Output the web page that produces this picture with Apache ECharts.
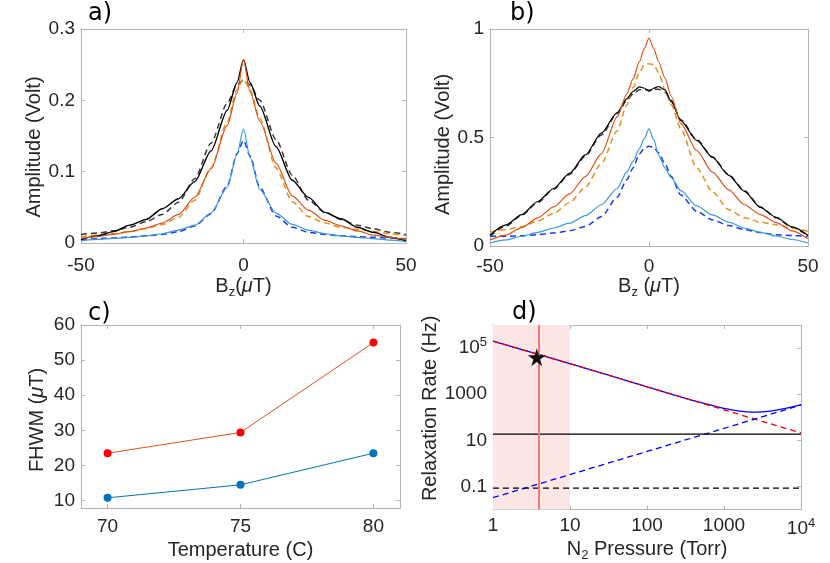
<!DOCTYPE html>
<html>
<head>
<meta charset="utf-8">
<script src="https://cdn.jsdelivr.net/npm/echarts@6.0.0/dist/echarts.min.js"></script>
<style>
  html, body { margin: 0; padding: 0; background: #fff; }
  #chart { width: 830px; height: 563px; }
</style>
</head>
<body>
<div id="chart"></div>
<script>
// ---- panel a : amplitude vs field ----
const fieldA = [-50, -45, -40, -35, -30, -25, -20, -15, -10, -5, -2, 0, 2, 5, 10, 15, 20, 25, 30, 35, 40, 45, 50];
const blackSolidA = [0.005, 0.010, 0.016, 0.025, 0.033, 0.048, 0.062, 0.086, 0.129, 0.186, 0.225, 0.257, 0.225, 0.192, 0.135, 0.088, 0.064, 0.043, 0.034, 0.022, 0.015, 0.008, 0.003];
const blackDashA = [0.012, 0.014, 0.017, 0.022, 0.030, 0.040, 0.057, 0.090, 0.140, 0.196, 0.222, 0.228, 0.222, 0.200, 0.145, 0.095, 0.060, 0.043, 0.033, 0.025, 0.020, 0.015, 0.012];
const orangeSolidA = [0.0065, 0.009, 0.012, 0.016, 0.021, 0.028, 0.040, 0.064, 0.104, 0.165, 0.210, 0.257, 0.212, 0.171, 0.112, 0.066, 0.046, 0.032, 0.024, 0.017, 0.011, 0.008, 0.005];
const orangeDashA = [0.009, 0.011, 0.013, 0.016, 0.020, 0.026, 0.036, 0.060, 0.105, 0.170, 0.215, 0.230, 0.215, 0.175, 0.105, 0.058, 0.037, 0.028, 0.022, 0.019, 0.016, 0.013, 0.010];
const blueSolidA = [0.003, 0.005, 0.0065, 0.008, 0.010, 0.013, 0.018, 0.025, 0.042, 0.078, 0.124, 0.160, 0.120, 0.075, 0.042, 0.026, 0.018, 0.013, 0.010, 0.008, 0.006, 0.004, 0.002];
const blueDashA = [0.005, 0.006, 0.007, 0.0085, 0.010, 0.012, 0.016, 0.024, 0.041, 0.080, 0.125, 0.144, 0.122, 0.078, 0.038, 0.022, 0.015, 0.012, 0.010, 0.009, 0.008, 0.007, 0.006];

// ---- panel b ----
const fieldB = [-50, -45, -40, -35, -30, -25, -20, -15, -10, -7, -5, -3, -1.5, 0, 1.5, 3, 5, 7, 10, 15, 20, 25, 30, 35, 40, 45, 50];
const blackSolidB = [0.050, 0.097, 0.145, 0.205, 0.265, 0.335, 0.420, 0.520, 0.615, 0.678, 0.712, 0.733, 0.728, 0.713, 0.727, 0.735, 0.720, 0.665, 0.578, 0.487, 0.408, 0.327, 0.252, 0.178, 0.132, 0.088, 0.050];
const blackDashB = [0.045, 0.092, 0.142, 0.200, 0.262, 0.330, 0.415, 0.512, 0.610, 0.670, 0.700, 0.720, 0.722, 0.718, 0.722, 0.722, 0.710, 0.670, 0.582, 0.490, 0.410, 0.330, 0.255, 0.180, 0.130, 0.085, 0.048];
const orangeSolidB = [0.028, 0.050, 0.085, 0.130, 0.180, 0.240, 0.320, 0.425, 0.595, 0.700, 0.770, 0.850, 0.910, 0.958, 0.910, 0.850, 0.775, 0.690, 0.565, 0.440, 0.340, 0.260, 0.190, 0.145, 0.108, 0.070, 0.033];
const orangeDashB = [0.065, 0.075, 0.090, 0.115, 0.150, 0.200, 0.270, 0.380, 0.530, 0.650, 0.730, 0.800, 0.835, 0.840, 0.835, 0.800, 0.720, 0.650, 0.540, 0.360, 0.250, 0.168, 0.130, 0.110, 0.098, 0.082, 0.068];
const blueSolidB = [0.014, 0.028, 0.045, 0.063, 0.083, 0.105, 0.140, 0.190, 0.265, 0.340, 0.390, 0.450, 0.495, 0.540, 0.490, 0.420, 0.360, 0.315, 0.255, 0.185, 0.143, 0.110, 0.083, 0.063, 0.046, 0.030, 0.014];
const blueDashB = [0.045, 0.045, 0.047, 0.052, 0.060, 0.070, 0.090, 0.135, 0.225, 0.305, 0.360, 0.425, 0.450, 0.460, 0.455, 0.430, 0.380, 0.320, 0.235, 0.160, 0.120, 0.095, 0.076, 0.062, 0.052, 0.048, 0.045];

// ---- panel c : FHWM vs temperature ----
const tempC = [70, 75, 80];
const fwhmRed = [23.5, 29.4, 55.0];
const fwhmBlue = [10.8, 14.5, 23.5];
const fwhmTicks = [10, 20, 30, 40, 50, 60];

// ---- panel d : relaxation rates vs N2 pressure ----
const pressD = [1, 10, 100, 1000, 10000];
const redDashD = [2.0e5, 2.1e4, 2.1e3, 210, 21];
const blueDashD = [0.033, 0.33, 3.3, 33, 340];
const pressTotalD = [1, 10, 100, 300, 600, 1000, 1500, 2500, 4000, 6000, 10000];
const blueTotalD = [2.0e5, 2.1e4, 2.1e3, 700, 370, 243, 190, 168, 186, 235, 355];
const pressFlatD = [1, 10000];
const blackSolidD = [18.6, 18.6];
const blackDashD = [0.085, 0.085];
const rateTicks = [0.1, 10, 1000, 1e5];
const starPoint = [3.7, 4.0e4];
const markedPressure = 3.9;
const shadedRange = [1, 10];

const pairs = (xs, ys) => xs.map((x, i) => [x, ys[i]]);

const FONT = '"Liberation Sans", Arial, Helvetica, sans-serif';
const TXT = '#262626';
const AX = '#b4b4b4';
const TICK = 19, NAME = 20;
const rich = {
  sub: { fontSize: 13, fontFamily: FONT, color: TXT, padding: [12, 0, 0, 0] },
  sup: { fontSize: 13, fontFamily: FONT, color: TXT, padding: [0, 0, 12, 0] },
  mu: { fontSize: NAME, fontFamily: FONT, color: TXT, fontStyle: 'italic' },
  b: { fontSize: NAME, fontFamily: FONT, color: TXT },
  t: { fontSize: TICK, fontFamily: FONT, color: TXT }
};

function tickStyle(custom) {
  const t = { show: true, inside: true, length: 4, lineStyle: { color: AX } };
  if (custom) t.customValues = custom;
  return t;
}
function labelStyle(margin, extra) {
  return Object.assign({ color: TXT, fontSize: TICK, fontFamily: FONT, margin: margin, rich: rich }, extra);
}
function axis(o, namePad) {
  return Object.assign({
    axisLine: { show: true, onZero: false, lineStyle: { color: AX, width: 1 } },
    axisTick: tickStyle(),
    axisLabel: labelStyle(10),
    splitLine: { show: false },
    nameLocation: 'middle',
    nameTextStyle: { color: TXT, fontSize: NAME, fontFamily: FONT, rich: rich, padding: namePad || 0 }
  }, o);
}
function mirror(o) {
  return Object.assign({
    axisLine: { show: true, onZero: false, lineStyle: { color: AX, width: 1 } },
    axisTick: tickStyle(),
    axisLabel: { show: false },
    splitLine: { show: false }
  }, o);
}
function logLabel(v) {
  const e = Math.round(Math.log10(v));
  if (e >= 4) return '{t|10}{sup|' + e + '}';
  return e < 0 ? Math.pow(10, e).toFixed(-e) : String(Math.pow(10, e));
}

function line(xi, xs, ys, color, dashed, width) {
  return {
    type: 'line', xAxisIndex: xi, yAxisIndex: xi,
    data: pairs(xs, ys), showSymbol: false, smooth: 0.25, smoothMonotone: 'x',
    lineStyle: { color: color, width: width || (dashed ? 1.5 : 1.2), type: dashed ? [6, 4] : 'solid' },
    silent: true
  };
}

const cBlackD = '#3a3a3a', cOrange = '#d95319', cOrangeD = '#e6901f', cBlue = '#3a9ad9', cBlueD = '#1a3cf5';

var chartDom = document.getElementById('chart');
var myChart = echarts.init(chartDom);

var option = {
  backgroundColor: '#fff',
  animation: false,
  title: [
    { text: 'a)', left: 88, top: 2 },
    { text: 'b)', left: 510, top: 2 },
    { text: 'c)', left: 88, top: 302 },
    { text: 'd)', left: 512, top: 301 }
  ].map(t => Object.assign(t, { padding: 0, textStyle: { fontSize: 24, fontWeight: 'normal', color: '#000', fontFamily: '"DejaVu Sans", Verdana, sans-serif' } })),
  grid: [
    { left: 81, right: 424, top: 29, bottom: 320 },
    { left: 490, right: 22, top: 29, bottom: 317 },
    { left: 81, right: 430, top: 325, bottom: 55 },
    { left: 493, right: 29, top: 325, bottom: 49 }
  ],
  xAxis: [
    axis({ gridIndex: 0, type: 'value', min: -50, max: 50, interval: 50, position: 'bottom',
      axisLabel: labelStyle(13),
      name: '{b|B}{sub|z}{b|(}{mu|μ}{b|T)}', nameGap: 31 }),
    axis({ gridIndex: 1, type: 'value', min: -50, max: 50, interval: 50, position: 'bottom',
      axisLabel: labelStyle(11),
      name: '{b|B}{sub|z}{b| (}{mu|μ}{b|T)}', nameGap: 28 }),
    axis({ gridIndex: 2, type: 'value', min: 69, max: 81, position: 'bottom',
      axisTick: tickStyle(tempC), axisLabel: labelStyle(9, { customValues: tempC }),
      name: 'Temperature (C)', nameGap: 32 }),
    axis({ gridIndex: 3, type: 'log', logBase: 10, min: 1, max: 10000, position: 'bottom',
      axisLabel: labelStyle(7, { formatter: logLabel }),
      name: '{b|N}{sub|2}{b| Pressure (Torr)}', nameGap: 25 }),
    mirror({ gridIndex: 0, type: 'value', min: -50, max: 50, interval: 50, position: 'top' }),
    mirror({ gridIndex: 1, type: 'value', min: -50, max: 50, interval: 50, position: 'top' }),
    mirror({ gridIndex: 2, type: 'value', min: 69, max: 81, position: 'top', axisTick: tickStyle(tempC) }),
    mirror({ gridIndex: 3, type: 'log', logBase: 10, min: 1, max: 10000, position: 'top' })
  ],
  yAxis: [
    axis({ gridIndex: 0, type: 'value', min: 0, max: 0.3, interval: 0.1, position: 'left',
      axisLabel: labelStyle(6),
      name: 'Amplitude (Volt)', nameGap: 36 }, [0, 22, 0, 0]),
    axis({ gridIndex: 1, type: 'value', min: 0, max: 1, interval: 0.5, position: 'left',
      axisLabel: labelStyle(6),
      name: 'Amplitude (Volt)', nameGap: 29 }, [0, 14, 0, 0]),
    axis({ gridIndex: 2, type: 'value', min: 7.9, max: 60, position: 'left',
      axisTick: tickStyle(fwhmTicks), axisLabel: labelStyle(6, { customValues: fwhmTicks }),
      name: '{b|FHWM (}{mu|μ}{b|T)}', nameGap: 34 }, [0, 7, 0, 0]),
    axis({ gridIndex: 3, type: 'log', logBase: 10, min: 0.01, max: 1e6, position: 'left',
      axisTick: tickStyle(rateTicks), axisLabel: labelStyle(6, { formatter: logLabel, customValues: rateTicks }),
      name: 'Relaxation Rate (Hz)', nameGap: 43 }, [0, 0, 0, 18]),
    mirror({ gridIndex: 0, type: 'value', min: 0, max: 0.3, interval: 0.1, position: 'right' }),
    mirror({ gridIndex: 1, type: 'value', min: 0, max: 1, interval: 0.5, position: 'right' }),
    mirror({ gridIndex: 2, type: 'value', min: 7.9, max: 60, position: 'right', axisTick: tickStyle(fwhmTicks) }),
    mirror({ gridIndex: 3, type: 'log', logBase: 10, min: 0.01, max: 1e6, position: 'right', axisTick: tickStyle(rateTicks) })
  ],
  series: [
    line(0, fieldA, blackDashA, cBlackD, true),
    line(0, fieldA, orangeDashA, cOrangeD, true),
    line(0, fieldA, blueDashA, cBlueD, true),
    line(0, fieldA, blackSolidA, '#000', false, 1.4),
    line(0, fieldA, orangeSolidA, cOrange, false),
    line(0, fieldA, blueSolidA, cBlue, false),

    line(1, fieldB, blackDashB, cBlackD, true),
    line(1, fieldB, orangeDashB, cOrangeD, true),
    line(1, fieldB, blueDashB, cBlueD, true),
    line(1, fieldB, blackSolidB, '#000', false),
    line(1, fieldB, orangeSolidB, cOrange, false),
    line(1, fieldB, blueSolidB, cBlue, false),

    { type: 'line', xAxisIndex: 2, yAxisIndex: 2, data: pairs(tempC, fwhmRed), symbol: 'circle', symbolSize: 8,
      lineStyle: { color: '#d95319', width: 1 }, itemStyle: { color: '#ff0000' } },
    { type: 'line', xAxisIndex: 2, yAxisIndex: 2, data: pairs(tempC, fwhmBlue), symbol: 'circle', symbolSize: 8,
      lineStyle: { color: '#0072bd', width: 1 }, itemStyle: { color: '#0072bd' } },

    { type: 'line', xAxisIndex: 3, yAxisIndex: 3, data: pairs(pressTotalD, blueTotalD), showSymbol: false, smooth: 0.3,
      lineStyle: { color: '#0000ff', width: 1.3 }, z: 3,
      markArea: { silent: true, itemStyle: { color: '#fde6e6' }, data: [[{ xAxis: shadedRange[0] }, { xAxis: shadedRange[1] }]] },
      markLine: { silent: true, symbol: 'none', label: { show: false }, lineStyle: { color: '#f47a7a', width: 2, type: 'solid' },
        data: [{ xAxis: markedPressure }] } },
    { type: 'line', xAxisIndex: 3, yAxisIndex: 3, data: pairs(pressD, redDashD), showSymbol: false,
      lineStyle: { color: '#ff0000', width: 1.3, type: [6, 4] }, z: 4 },
    { type: 'line', xAxisIndex: 3, yAxisIndex: 3, data: pairs(pressD, blueDashD), showSymbol: false,
      lineStyle: { color: '#0000ff', width: 1.3, type: [6, 4] }, z: 4 },
    { type: 'line', xAxisIndex: 3, yAxisIndex: 3, data: pairs(pressFlatD, blackSolidD), showSymbol: false,
      lineStyle: { color: '#000', width: 1.2 }, z: 4 },
    { type: 'line', xAxisIndex: 3, yAxisIndex: 3, data: pairs(pressFlatD, blackDashD), showSymbol: false,
      lineStyle: { color: '#000', width: 1.2, type: [6, 4] }, z: 4 },
    { type: 'scatter', xAxisIndex: 3, yAxisIndex: 3, data: [starPoint], z: 6,
      symbol: 'path://M50,0 L61,35 L98,35 L68,57 L79,91 L50,70 L21,91 L32,57 L2,35 L39,35 Z',
      symbolSize: 18, itemStyle: { color: '#111', opacity: 1 } }
  ]
};

myChart.setOption(option);
</script>
</body>
</html>
